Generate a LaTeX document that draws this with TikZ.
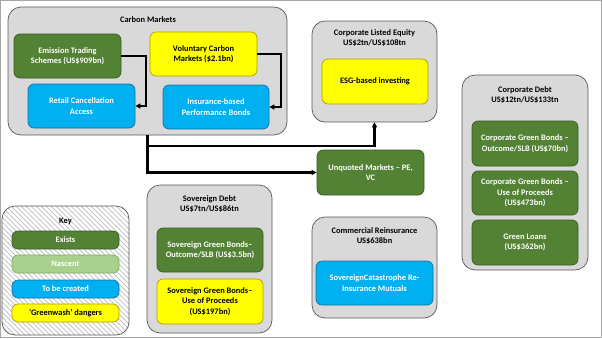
\documentclass[tikz,border=0pt]{standalone}
\usepackage{fontspec}
\setmainfont{Carlito}
\usetikzlibrary{arrows.meta}
\definecolor{dgreen}{HTML}{548235}
\definecolor{dgreenb}{HTML}{3A5A24}
\definecolor{lgreen}{HTML}{A9D18E}
\definecolor{lgreenb}{HTML}{7FA866}
\definecolor{cblue}{HTML}{00B0F0}
\definecolor{cblueb}{HTML}{1E6E9E}
\definecolor{cyel}{HTML}{FFFF00}
\definecolor{cyelb}{HTML}{B59B00}
\definecolor{cont}{HTML}{D9D9D9}
\definecolor{contb}{HTML}{595959}
\tikzset{
  every node/.style={font=\bfseries\fontsize{8.4}{10.5}\selectfont, align=center, inner sep=0pt},
  container/.style={draw=contb, fill=cont, line width=0.7pt, rounded corners=13pt},
  inbox/.style={line width=0.7pt, rounded corners=6pt},
  exists/.style={inbox, draw=dgreenb, fill=dgreen, text=white},
  nascent/.style={inbox, draw=lgreenb, fill=lgreen, text=white},
  tobe/.style={inbox, draw=cblueb, fill=cblue, text=white},
  greenw/.style={inbox, draw=cyelb, fill=cyel, text=black},
  title/.style={text=black},
  hatch/.style={draw=gray!45, line width=0.8pt},
  conn/.style={line width=2.2pt, -{Triangle[length=5pt,width=5pt]}},
}
\newcommand{\bx}[5]{\node[#1, minimum width=#4pt, minimum height=#5pt] at (#2,#3)}
\begin{document}
\begin{tikzpicture}[x=1pt,y=-1pt]
\draw[gray!70, line width=0.8pt, fill=white] (0.5,0.5) rectangle (601.5,337.5);
\useasboundingbox (0,0) rectangle (602,338);

% Carbon markets
\bx{container}{147.5}{71}{279}{128} (carbon) {};
\node[title] (carbont) at (148,20) {Carbon Markets};
\bx{exists}{67.5}{56}{107}{44} (ets) {Emission Trading\\Schemes (US\$909bn)};
\bx{greenw}{203.5}{54}{107}{44} (vcm) {Voluntary Carbon\\Markets (\$2.1bn)};
\bx{tobe}{81.5}{106}{107}{44} (retail) {Retail Cancellation\\Access};
\bx{tobe}{216}{107}{106}{44} (insb) {Insurance-based\\Performance Bonds};

% Corporate listed equity
\bx{container}{374.5}{71.5}{125}{101} (cle) {};
\node[title, font=\bfseries\fontsize{8.4}{10}\selectfont] (clet) at (374.5,38) {Corporate Listed Equity\\US\$2tn/US\$108tn};
\bx{greenw}{375}{81.5}{106}{45} (esg) {ESG-based investing};

% Corporate debt
\bx{container}{525}{172.5}{126}{195} (cdebt) {};
\node[title, font=\bfseries\fontsize{8.4}{10}\selectfont] (cdebtt) at (525,94.5) {Corporate Debt\\US\$12tn/US\$133tn};
\bx{exists}{525}{143.5}{106}{45} (cgb1) {Corporate Green Bonds --\\Outcome/SLB (US\$70bn)};
\bx{exists}{525}{193}{106}{44} (cgb2) {Corporate Green Bonds --\\Use of Proceeds\\(US\$473bn)};
\bx{exists}{525}{242.5}{106}{45} (gl) {Green Loans\\(US\$362bn)};

% Unquoted
\bx{exists}{370.5}{172.5}{107}{45} (unq) {Unquoted Markets -- PE,\\VC};

% Commercial reinsurance
\bx{container}{374.5}{267.5}{125}{101} (cre) {};
\node[title, font=\bfseries\fontsize{8.4}{10}\selectfont] (cret) at (374.5,236) {Commercial Reinsurance\\US\$638bn};
\bx{tobe}{374.5}{283}{117}{44} (scat) {SovereignCatastrophe Re-\\Insurance Mutuals};

% Sovereign debt
\bx{container}{209.5}{259}{125}{148} (sdebt) {};
\node[title, font=\bfseries\fontsize{8.4}{10}\selectfont] (sdebtt) at (209.5,203.5) {Sovereign Debt\\US\$7tn/US\$86tn};
\bx{exists}{210}{250}{106}{44} (sgb1) {Sovereign Green Bonds--\\Outcome/SLB (US\$3.5bn)};
\bx{greenw}{210}{301.5}{106}{45} (sgb2) {Sovereign Green Bonds--\\Use of Proceeds\\(US\$197bn)};

% Key
\node[fill=white, rounded corners=13pt, minimum width=127pt, minimum height=129pt] (keybg) at (65.5,270.5) {};
\begin{scope}
  \clip[rounded corners=13pt] (keybg.south west) rectangle (keybg.north east);
  \foreach \i in {-140,-135,...,140} {
    \draw[hatch] (\i,200) -- (\i+140,340);
  }
\end{scope}
\node[draw=contb, line width=0.7pt, rounded corners=13pt, minimum width=127pt, minimum height=129pt] (key) at (65.5,270.5) {};
\node[title] (keyt) at (65.5,221) {Key};
\bx{exists}{65.5}{240}{107}{18} (k1) {Exists};
\bx{nascent}{65.5}{264}{107}{18} (k2) {Nascent};
\bx{tobe}{65.5}{289}{107}{18} (k3) {To be created};
\bx{greenw}{65.5}{313}{107}{18} (k4) {`Greenwash' dangers};

% Connectors
\draw[conn] (ets.east) -- ++(25,0) |- (retail.east);
\draw[conn] (vcm.east) -- ++(24,0) |- (insb.east);
\coordinate (j1) at ([yshift=-11pt]carbon.south);
\draw[conn] (carbon.south) |- (unq.west);
\draw[conn] (j1) -| (cle.south);
\end{tikzpicture}
\end{document}
